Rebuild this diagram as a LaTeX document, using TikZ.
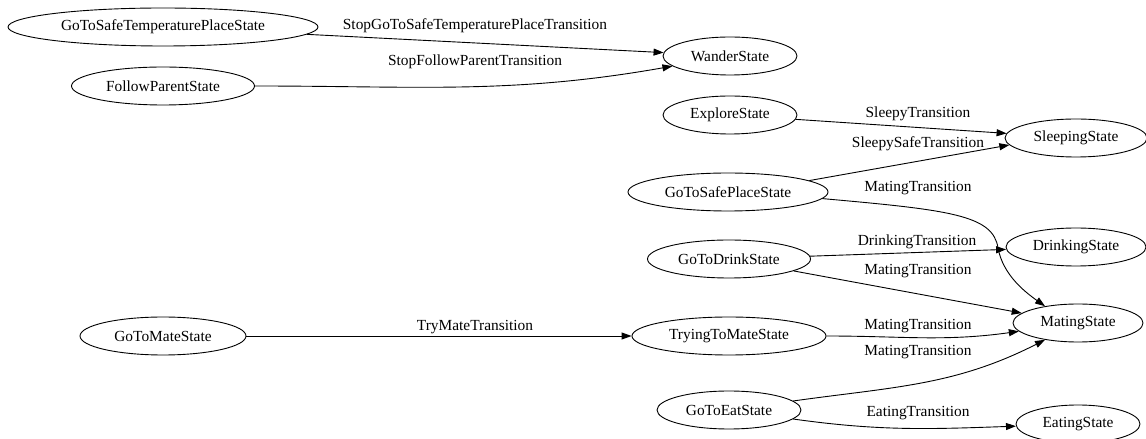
\documentclass[tikz,border=0pt]{standalone}
\usepackage{fontspec}
\setmainfont{Liberation Serif}
\usetikzlibrary{shapes.geometric,arrows.meta}
\begin{document}
\begin{tikzpicture}[x=1pt,y=1pt,
  state/.style={ellipse,draw,line width=0.9pt,inner sep=0pt,minimum height=38pt,
    font=\fontsize{15.4}{17}\selectfont},
  edge/.style={line width=0.9pt,-{Triangle[length=10pt,width=7pt]}},
  lbl/.style={font=\fontsize{15.4}{17}\selectfont,inner sep=0pt}]
\useasboundingbox (0,0) rectangle (1146,439);
% states
\node[state,minimum width=310pt] (gtstp) at (163,412) {GoToSafeTemperaturePlaceState};
\node[state,minimum width=183pt] (fps) at (163,353) {FollowParentState};
\node[state,minimum width=134pt] (wander) at (730,383) {WanderState};
\node[state,minimum width=134pt] (explore) at (730,324) {ExploreState};
\node[state,minimum width=142pt] (sleeping) at (1076,301) {SleepingState};
\node[state,minimum width=200pt] (gtsp) at (728,247) {GoToSafePlaceState};
\node[state,minimum width=140pt] (drinking) at (1076,192) {DrinkingState};
\node[state,minimum width=163pt] (gtd) at (729,180) {GoToDrinkState};
\node[state,minimum width=130pt] (mating) at (1078,116) {MatingState};
\node[state,minimum width=166pt] (gtm) at (163,103) {GoToMateState};
\node[state,minimum width=194pt] (trying) at (729,103) {TryingToMateState};
\node[state,minimum width=144pt] (gte) at (729,29) {GoToEatState};
\node[state,minimum width=124pt] (eating) at (1078,15) {EatingState};
% transitions
\draw[edge] (gtstp) -- (wander);
\draw[edge] (fps) to[out=0,in=190] (wander);
\draw[edge] (explore) -- (sleeping);
\draw[edge] (gtsp.8) -- (sleeping.186);
\draw[edge] (gtsp.356) .. controls (950,229) and (993,224) .. (998,191)
  .. controls (1003,164) and (1025,147) .. (mating.153);
\draw[edge] (gtd) -- (drinking);
\draw[edge] (gtd) -- (mating.170);
\draw[edge] (gtm) -- (trying);
\draw[edge] (trying) to[out=0,in=188] (mating);
\draw[edge] (gte) to[out=8,in=207] (mating);
\draw[edge] (gte) to[out=-8,in=182] (eating);
% transition labels
\node[lbl] (l1) at (475,413) {StopGoToSafeTemperaturePlaceTransition};
\node[lbl] (l2) at (475,377) {StopFollowParentTransition};
\node[lbl] (l3) at (918,325) {SleepyTransition};
\node[lbl] (l4) at (918,295) {SleepySafeTransition};
\node[lbl] (l5) at (918,251) {MatingTransition};
\node[lbl] (l6) at (917,197) {DrinkingTransition};
\node[lbl] (l7) at (918,168) {MatingTransition};
\node[lbl] (l8) at (475,112) {TryMateTransition};
\node[lbl] (l9) at (918,113) {MatingTransition};
\node[lbl] (l10) at (918,87) {MatingTransition};
\node[lbl] (l11) at (918,26) {EatingTransition};
\end{tikzpicture}
\end{document}
